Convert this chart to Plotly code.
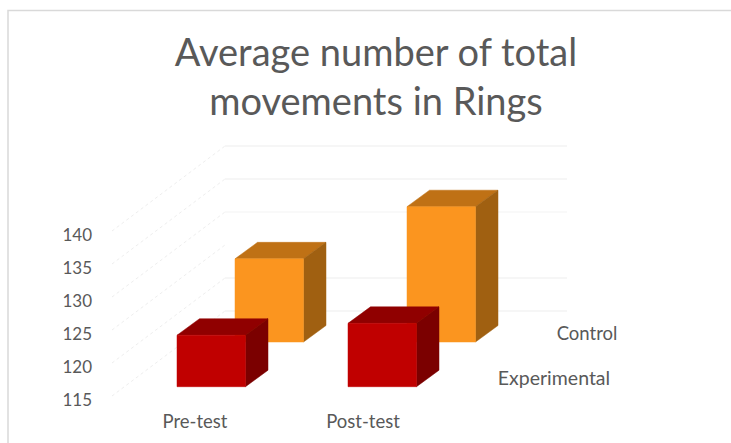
import plotly.graph_objects as go

categories = ["Pre-test", "Post-test"]
experimental = [122.8, 124.6]
control = [127.6, 135.5]
series_names = ["Experimental", "Control"]
tick_values = [115, 120, 125, 130, 135, 140]
back_wall_lines = [115, 120, 130, 135, 140]
title_text = "Average number of total<br>movements in Rings"

W, H = 731, 443
PX_PER_UNIT = 6.6
BASE_PX = 396.0          # pixel row of value 115 on the front edge
FLOOR = 115


def y_of(px):
    return FLOOR + (BASE_PX - px) / PX_PER_UNIT


Y_RANGE = [y_of(H), y_of(0)]
LEFT = 95
fig = go.Figure()

# back wall gridlines and side wall diagonals
WALL_DX, WALL_DY = 113, 85 / PX_PER_UNIT
for v in tick_values:
    fig.add_trace(go.Scatter(x=[112, 112 + WALL_DX], y=[v, v + WALL_DY], mode="lines",
                             line=dict(color="#eeeeee", width=1, dash="dot"),
                             hoverinfo="skip", showlegend=False))
for v in back_wall_lines:
    fig.add_trace(go.Scatter(x=[112 + WALL_DX, 567], y=[v + WALL_DY, v + WALL_DY], mode="lines",
                             line=dict(color="#f3f3f3" if v == 130 else "#eeeeee", width=1.2),
                             hoverinfo="skip", showlegend=False))

BAR_W = 68.5
DEPTH_DX, DEPTH_DY = 22.5, 16.5 / PX_PER_UNIT
# left pixel of each bar, and how far the row's floor sits above the front edge (in axis units)
SLOTS = {
    "Control": ([235, 407], y_of(342) - FLOOR),
    "Experimental": ([177, 348], y_of(386.7) - FLOOR),
}
COLORS = {
    "Experimental": ("#c00000", "#900000", "#7b0000"),
    "Control": ("#fb951f", "#bf7115", "#a06011"),
}


def poly(xs, ys, color):
    fig.add_trace(go.Scatter(x=xs + xs[:1], y=ys + ys[:1], mode="lines", fill="toself",
                             fillcolor=color, line=dict(color=color, width=0.5),
                             hoverinfo="skip", showlegend=False))


for name, vals in (("Control", control), ("Experimental", experimental)):
    lefts, lift = SLOTS[name]
    front, top, side = COLORS[name]
    bottom = FLOOR + lift
    for x0, v in zip(lefts, vals):
        x1 = x0 + BAR_W
        vt = v + lift
        poly([x0, x1, x1 + DEPTH_DX, x0 + DEPTH_DX], [vt, vt, vt + DEPTH_DY, vt + DEPTH_DY], top)
        poly([x1, x1 + DEPTH_DX, x1 + DEPTH_DX, x1],
             [bottom, bottom + DEPTH_DY, vt + DEPTH_DY, vt], side)
        poly([x0, x1, x1, x0], [bottom, bottom, vt, vt], front)

TXT = "#595959"
FONT = "Lato"
cat_x = [195, 363]
fig.add_trace(go.Scatter(x=cat_x, y=[y_of(423)] * 2, text=categories, mode="text",
                         textfont=dict(family=FONT, size=18.5, color=TXT),
                         hoverinfo="skip", showlegend=False))
fig.add_trace(go.Scatter(x=[554, 587], y=[y_of(380), y_of(335)], text=series_names, mode="text",
                         textfont=dict(family=FONT, size=[19.5, 18.5], color=TXT),
                         hoverinfo="skip", showlegend=False))

fig.update_xaxes(range=[LEFT, W], visible=False, fixedrange=True)
fig.update_yaxes(range=Y_RANGE, tickvals=tick_values, showgrid=False, zeroline=False,
                 showline=False, ticks="", ticklabelshift=4, ticklabelstandoff=2,
                 tickfont=dict(family=FONT, size=17, color=TXT), fixedrange=True)
fig.update_layout(
    width=W, height=H, autosize=False,
    margin=dict(l=LEFT, r=0, t=0, b=0),
    paper_bgcolor="white", plot_bgcolor="rgba(0,0,0,0)",
    title=dict(text=title_text, x=376 / W, xanchor="center", y=1 - 66 / H, yanchor="top",
               font=dict(family=FONT, size=38, color=TXT)),
    shapes=[dict(type="rect", xref="paper", yref="paper", layer="below",
                 x0=-LEFT / (W - LEFT) + 8 / (W - LEFT), x1=1.02, y0=-0.05,
                 y1=1 - 10.5 / H, line=dict(color="#d9d9d9", width=1.5), fillcolor="white")],
)
fig.write_html("out.html", config=dict(displayModeBar=False),
               post_script="document.body.style.margin='0';window.dispatchEvent(new Event('resize'));")
